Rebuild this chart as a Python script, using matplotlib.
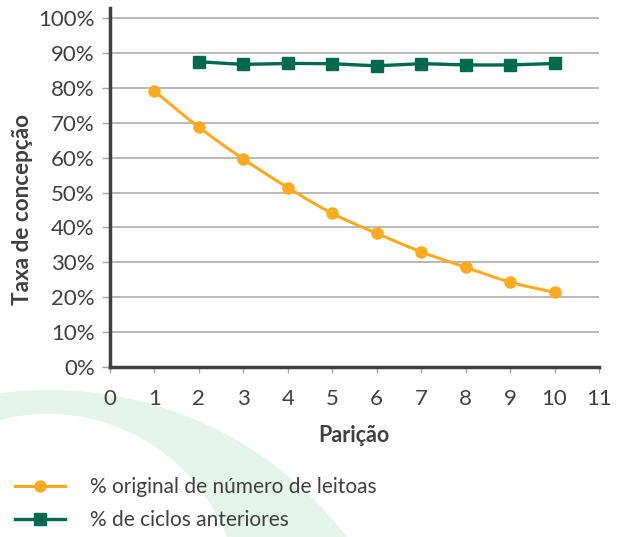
import numpy as np
import matplotlib
matplotlib.use("Agg")
import matplotlib.pyplot as plt
from matplotlib.patches import Polygon
from matplotlib.lines import Line2D

# ---- data ----
paricao = [1, 2, 3, 4, 5, 6, 7, 8, 9, 10]
original_leitoas = [0.791, 0.687, 0.596, 0.514, 0.440, 0.383, 0.330, 0.286, 0.243, 0.214]
paricao_ciclos = [2, 3, 4, 5, 6, 7, 8, 9, 10]
ciclos_anteriores = [0.875, 0.868, 0.870, 0.869, 0.864, 0.869, 0.866, 0.866, 0.870]
y_ticks = [0, 0.1, 0.2, 0.3, 0.4, 0.5, 0.6, 0.7, 0.8, 0.9, 1.0]
y_tick_labels = ["0%", "10%", "20%", "30%", "40%", "50%", "60%", "70%", "80%", "90%", "100%"]
x_ticks = list(range(0, 12))
label_orig = "% original de número de leitoas"
label_ciclos = "% de ciclos anteriores"

ORANGE = "#FCAA1F"
GREEN = "#00694E"
TXT = "#404040"

plt.rcParams["font.family"] = ["Lato", "DejaVu Sans"]

W, H = 622, 537
fig = plt.figure(figsize=(W / 100, H / 100), dpi=100)

# decorative background crescent (figure pixel coords)
bg = fig.add_axes([0, 0, 1, 1], zorder=-10)
bg.set_xlim(0, W)
bg.set_ylim(H, 0)
bg.axis("off")
ocx, ocy, oR = 49.5, 764.0, 374.0
icx, icy, iR = 47.8, 606.0, 192.0
xo = np.linspace(-5, ocx + np.sqrt(oR**2 - (ocy - 545) ** 2), 200)
yo = ocy - np.sqrt(oR**2 - (xo - ocx) ** 2)
xi = np.linspace(icx + np.sqrt(iR**2 - (icy - 545) ** 2), -5, 200)
yi = icy - np.sqrt(iR**2 - (xi - icx) ** 2)
pts = np.column_stack([np.concatenate([xo, xi]), np.concatenate([yo, yi])])
bg.add_patch(Polygon(pts, closed=True, facecolor="#E5F5EC", edgecolor="none"))

ax = fig.add_axes([110 / W, 1 - 367 / H, (599 - 110) / W, (367 - 8) / H])
ax.patch.set_alpha(0)


def smooth(xs, ys, n=30):
    xs = np.asarray(xs, float)
    ys = np.asarray(ys, float)
    px = np.concatenate([[2 * xs[0] - xs[1]], xs, [2 * xs[-1] - xs[-2]]])
    py = np.concatenate([[2 * ys[0] - ys[1]], ys, [2 * ys[-1] - ys[-2]]])
    outx, outy = [], []
    for i in range(1, len(px) - 2):
        t = np.linspace(0, 1, n, endpoint=False)
        for arr, out in ((px, outx), (py, outy)):
            p0, p1, p2, p3 = arr[i - 1], arr[i], arr[i + 1], arr[i + 2]
            m1 = (p2 - p0) / 2 * 0.9
            m2 = (p3 - p1) / 2 * 0.9
            h00 = 2 * t**3 - 3 * t**2 + 1
            h10 = t**3 - 2 * t**2 + t
            h01 = -2 * t**3 + 3 * t**2
            h11 = t**3 - t**2
            out.extend(h00 * p1 + h10 * m1 + h01 * p2 + h11 * m2)
    outx.append(xs[-1])
    outy.append(ys[-1])
    return outx, outy


sx, sy = smooth(paricao, original_leitoas)
ax.plot(sx, sy, color=ORANGE, lw=2.2, zorder=3, solid_capstyle="round")
ax.plot(paricao, original_leitoas, "o", color=ORANGE, ms=8, zorder=4)
gx, gy = smooth(paricao_ciclos, ciclos_anteriores)
ax.plot(gx, gy, color=GREEN, lw=2.4, zorder=3)
ax.plot(paricao_ciclos, ciclos_anteriores, "s", color=GREEN, ms=8, zorder=4)

ax.set_xlim(0, 11)
ax.set_ylim(0, 1.029)
ax.set_yticks(y_ticks)
ax.set_yticklabels(y_tick_labels)
ax.set_xticks(x_ticks)
ax.tick_params(axis="y", length=6, width=1, color="#A6A6A6", labelsize=16, labelcolor=TXT, pad=5)
ax.tick_params(axis="x", length=4, width=1, color="#A6A6A6", labelsize=16, labelcolor=TXT, pad=12)
ax.grid(axis="y", color="#A6A6A6", lw=1.1, zorder=0)
ax.set_axisbelow(True)
for s in ["top", "right"]:
    ax.spines[s].set_visible(False)
for s in ["left", "bottom"]:
    ax.spines[s].set_color(TXT)
    ax.spines[s].set_linewidth(2.5)

# axis titles placed in figure pixel positions
fig.text(354 / W, 1 - 435 / H, "Parição", fontsize=15.5, fontweight="bold",
         color=TXT, ha="center", va="center")
fig.text(23 / W, 1 - 210 / H, "Taxa de concepção", fontsize=16.2, fontweight="bold",
         color=TXT, ha="center", va="center", rotation=90)

handles = [
    Line2D([], [], color=ORANGE, lw=2.2, marker="o", ms=8),
    Line2D([], [], color=GREEN, lw=2.4, marker="s", ms=8),
]
fig.legend(handles, [label_orig, label_ciclos], loc="upper left",
           bbox_to_anchor=(15 / W, 1 - 477 / H), frameon=False, fontsize=15,
           labelcolor=TXT, handlelength=2.4, handletextpad=1.2, labelspacing=0.62,
           borderaxespad=0, borderpad=0)

fig.savefig("out.png", dpi=100)
